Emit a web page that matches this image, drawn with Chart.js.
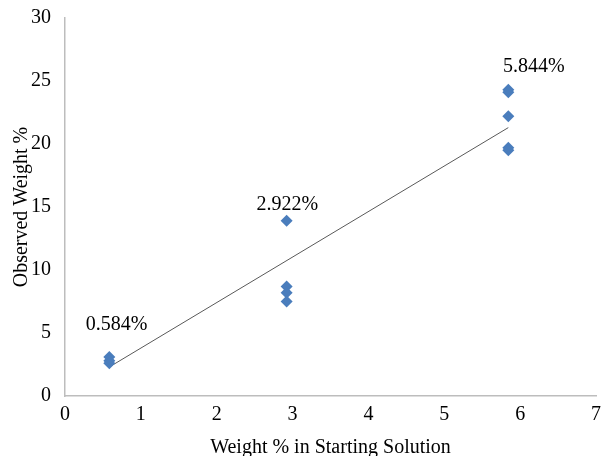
<!DOCTYPE html>
<html>
<head>
<meta charset="utf-8">
<script src="https://cdn.jsdelivr.net/npm/chart.js@4/dist/chart.umd.min.js"></script>
<style>
  html, body { margin: 0; padding: 0; background: #fff; }
  #wrap { width: 602px; height: 456px; position: relative; }
</style>
</head>
<body>
<div id="wrap"><canvas id="chart" width="602" height="456"></canvas></div>
<script>
// concentrations in starting solution (wt %)
const concentrations = [0.584, 2.922, 5.844];
// observed weight % readings for each concentration
const observedLow = [3.1, 2.8, 2.6];
const observedMid = [13.9, 8.7, 8.2, 7.5];
const observedHigh = [24.3, 24.1, 22.2, 19.7, 19.5];
// linear trend, ends
const trendX = [0.584, 5.844];
const trendY = [2.3, 21.3];
// annotation labels
const labelText = ["0.584%", "2.922%", "5.844%"];
const labelX = [0.68, 2.93, 6.18];
const labelY = [5.65, 15.2, 26.1];

const xTicks = [0, 1, 2, 3, 4, 5, 6, 7];
const yTicks = [0, 5, 10, 15, 20, 25, 30];

const serif = "'Liberation Serif', 'Times New Roman', serif";

const scatter = [];
[observedLow, observedMid, observedHigh].forEach((vals, i) => {
  vals.forEach((v) => scatter.push({ x: concentrations[i], y: v }));
});

const labelPlugin = {
  id: "pctLabels",
  afterDatasetsDraw(chart) {
    const { ctx, scales } = chart;
    ctx.save();
    ctx.font = "20px " + serif;
    ctx.fillStyle = "#000";
    ctx.textAlign = "center";
    ctx.textBaseline = "middle";
    labelText.forEach((t, i) => {
      ctx.fillText(t, scales.x.getPixelForValue(labelX[i]), scales.y.getPixelForValue(labelY[i]));
    });
    ctx.restore();
  },
};

new Chart(document.getElementById("chart"), {
  type: "scatter",
  data: {
    datasets: [
      {
        type: "line",
        data: trendX.map((x, i) => ({ x, y: trendY[i] })),
        borderColor: "#5a5a5a",
        borderWidth: 1,
        pointRadius: 0,
        fill: false,
        order: 2,
      },
      {
        data: scatter,
        pointStyle: "rectRot",
        pointRadius: 6,
        backgroundColor: "#4a7dbc",
        borderColor: "#4a7dbc",
        borderWidth: 0,
        order: 1,
      },
    ],
  },
  options: {
    responsive: false,
    animation: false,
    layout: { padding: 0 },
    plugins: { legend: { display: false }, tooltip: { enabled: false } },
    scales: {
      x: {
        type: "linear",
        min: 0,
        max: 7,
        afterBuildTicks: (s) => { s.ticks = xTicks.map((v) => ({ value: v })); },
        afterFit: (s) => { s.height = 60; s.paddingRight = 3; s.paddingLeft = 0; },
        grid: { display: false, drawTicks: false },
        border: { color: "#bdbdbd", width: 1.5 },
        ticks: { color: "#000", font: { family: serif, size: 20 }, padding: 7, maxRotation: 0 },
        title: { display: true, text: "Weight % in Starting Solution", color: "#000", font: { family: serif, size: 20 }, padding: { top: 9, bottom: -4 } },
      },
      y: {
        min: 0,
        max: 30,
        afterBuildTicks: (s) => { s.ticks = yTicks.map((v) => ({ value: v })); },
        afterFit: (s) => { s.width = 65; s.paddingTop = 18; s.paddingBottom = 0; },
        grid: { display: false, drawTicks: false },
        border: { color: "#bdbdbd", width: 1.5 },
        ticks: { color: "#000", font: { family: serif, size: 20 }, padding: 14 },
        title: { display: true, text: "Observed Weight %", color: "#000", font: { family: serif, size: 20 }, padding: { top: 10, bottom: 4 } },
      },
    },
  },
  plugins: [labelPlugin],
});
</script>
</body>
</html>
